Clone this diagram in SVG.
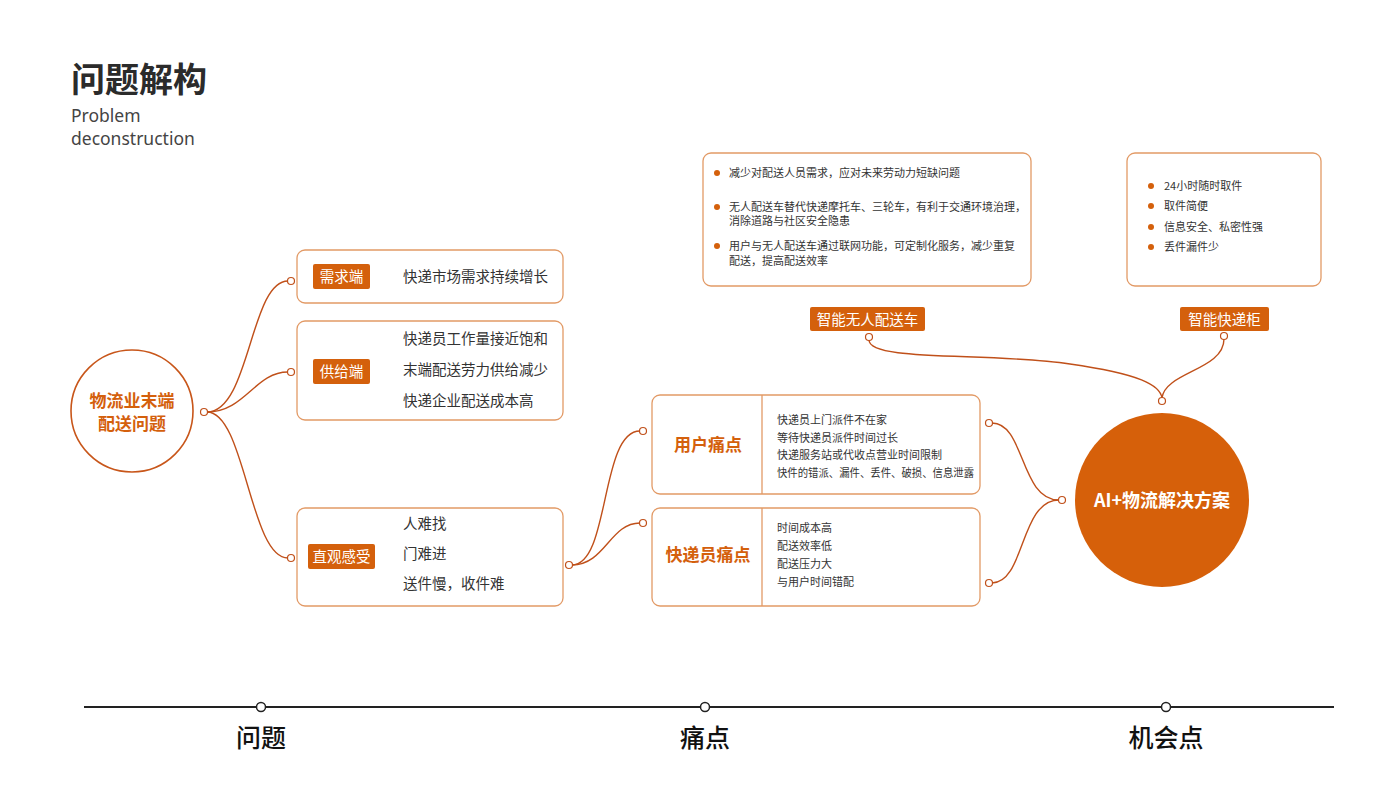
<svg xmlns="http://www.w3.org/2000/svg" width="1400" height="788" viewBox="0 0 1400 788">
<defs>
<style>
.cjk{font-family:"Noto Sans CJK SC","Noto Sans",sans-serif}
.box{fill:#fff;stroke:#e29a66;stroke-width:1.3}
.tag{fill:#d4600c}
.tagt{fill:#fff;font-size:14.5px;text-anchor:middle;font-family:"Noto Sans CJK SC",sans-serif}
.body{fill:#333;font-size:14.5px;font-family:"Noto Sans CJK SC",sans-serif}
.small{fill:#333;font-size:11px;font-family:"Noto Sans CJK SC",sans-serif}
.lbl{fill:#d4600c;font-size:17px;font-weight:700;text-anchor:middle;font-family:"Noto Sans CJK SC",sans-serif}
.link{fill:none;stroke:#c0501a;stroke-width:1.4}
.dot{fill:#fff;stroke:#c0501a;stroke-width:1.2}
.bul{fill:#d4600c}
.tl{fill:#fff;stroke:#222;stroke-width:1.5}
.tlt{fill:#111;font-size:25px;font-weight:500;text-anchor:middle;font-family:"Noto Sans CJK SC",sans-serif}
</style>
</defs>
<rect width="1400" height="788" fill="#fff"/>

<g id="title">
<text x="71" y="92" class="cjk" font-size="34" font-weight="700" fill="#2b2b2b">问题解构</text>
<text x="71" y="121.5" font-family="Noto Sans,sans-serif" font-size="17.5" fill="#444">Problem</text>
<text x="71" y="145" font-family="Noto Sans,sans-serif" font-size="17.5" fill="#444">deconstruction</text>
</g>

<g id="connectors">
<path class="link" d="M207,412 C250,412 250,281 288,281"/>
<path class="link" d="M207,412 C245,412 255,372 288,372"/>
<path class="link" d="M207,412 C245,412 250,558 288,558"/>
<path class="link" d="M572,565 C610,565 600,431 640,431"/>
<path class="link" d="M572,565 C605,565 610,523 640,523"/>
<path class="link" d="M992,423 C1025,423 1020,500 1059,500"/>
<path class="link" d="M992,583 C1025,583 1020,500 1059,500"/>
<path class="link" d="M869,340 C869,362 990,352 1070,364 C1140,374 1160,385 1162,398"/>
<path class="link" d="M1224,339 C1224,370 1165,372 1162,398"/>
<circle class="dot" cx="204" cy="412" r="3.5"/>
<circle class="dot" cx="291" cy="281" r="3.5"/>
<circle class="dot" cx="291" cy="372" r="3.5"/>
<circle class="dot" cx="291" cy="558" r="3.5"/>
<circle class="dot" cx="569" cy="565" r="3.5"/>
<circle class="dot" cx="643" cy="431" r="3.5"/>
<circle class="dot" cx="643" cy="523" r="3.5"/>
<circle class="dot" cx="989" cy="423" r="3.5"/>
<circle class="dot" cx="989" cy="583" r="3.5"/>
<circle class="dot" cx="1062" cy="500" r="3.5"/>
<circle class="dot" cx="1162" cy="401" r="3.5"/>
<circle class="dot" cx="869" cy="337" r="3.5"/>
<circle class="dot" cx="1224" cy="336" r="3.5"/>
</g>

<g id="root">
<circle cx="132" cy="411" r="61" fill="#fff" stroke="#c8561a" stroke-width="1.6"/>
<text x="132" y="407" class="lbl" font-size="16.5">物流业末端</text>
<text x="132" y="430" class="lbl" font-size="16.5">配送问题</text>
</g>

<g id="demand">
<rect class="box" x="297" y="250" width="266" height="53" rx="8"/>
<rect class="tag" x="313" y="264" width="57" height="25" rx="2"/>
<text x="341.5" y="282" class="tagt">需求端</text>
<text x="403" y="282" class="body">快递市场需求持续增长</text>
</g>

<g id="supply">
<rect class="box" x="297" y="321" width="266" height="99" rx="8"/>
<rect class="tag" x="313" y="359" width="57" height="25" rx="2"/>
<text x="341.5" y="377" class="tagt">供给端</text>
<text x="403" y="344" class="body">快递员工作量接近饱和</text>
<text x="403" y="375" class="body">末端配送劳力供给减少</text>
<text x="403" y="406" class="body">快递企业配送成本高</text>
</g>

<g id="intuitive">
<rect class="box" x="297" y="508" width="266" height="98" rx="8"/>
<rect class="tag" x="308" y="544" width="67" height="25" rx="2"/>
<text x="341.5" y="562" class="tagt">直观感受</text>
<text x="403" y="529" class="body">人难找</text>
<text x="403" y="559" class="body">门难进</text>
<text x="403" y="589" class="body">送件慢，收件难</text>
</g>

<g id="user-pain">
<rect class="box" x="652" y="395" width="328" height="99" rx="8"/>
<line x1="762" y1="395" x2="762" y2="494" stroke="#e29a66" stroke-width="1.3"/>
<text x="708" y="451" class="lbl">用户痛点</text>
<text x="777" y="424" class="small">快递员上门派件不在家</text>
<text x="777" y="442" class="small">等待快递员派件时间过长</text>
<text x="777" y="459" class="small">快递服务站或代收点营业时间限制</text>
<text x="777" y="477" class="small" textLength="197" lengthAdjust="spacingAndGlyphs">快件的错派、漏件、丢件、破损、信息泄露</text>
</g>

<g id="courier-pain">
<rect class="box" x="652" y="508" width="328" height="98" rx="8"/>
<line x1="762" y1="508" x2="762" y2="606" stroke="#e29a66" stroke-width="1.3"/>
<text x="708" y="561" class="lbl">快递员痛点</text>
<text x="777" y="532" class="small">时间成本高</text>
<text x="777" y="550" class="small">配送效率低</text>
<text x="777" y="568" class="small">配送压力大</text>
<text x="777" y="586" class="small">与用户时间错配</text>
</g>

<g id="solution">
<circle cx="1162" cy="500" r="87" fill="#d6600a"/>
<text x="1162" y="507" fill="#fff" font-size="18" font-weight="700" text-anchor="middle" class="cjk">AI+物流解决方案</text>
</g>

<g id="vehicle">
<rect class="box" x="703" y="153" width="328" height="133" rx="8"/>
<circle class="bul" cx="717" cy="173" r="3"/>
<text x="729" y="177" class="small">减少对配送人员需求，应对未来劳动力短缺问题</text>
<circle class="bul" cx="717" cy="207" r="3"/>
<text x="729" y="211" class="small">无人配送车替代快递摩托车、三轮车，有利于交通环境治理，</text>
<text x="729" y="225" class="small">消除道路与社区安全隐患</text>
<circle class="bul" cx="717" cy="246" r="3"/>
<text x="729" y="250" class="small">用户与无人配送车通过联网功能，可定制化服务，减少重复</text>
<text x="729" y="265" class="small">配送，提高配送效率</text>
<rect class="tag" x="810" y="307" width="115" height="24" rx="2"/>
<text x="867.5" y="324.5" class="tagt">智能无人配送车</text>
</g>

<g id="locker">
<rect class="box" x="1127" y="153" width="194" height="133" rx="8"/>
<circle class="bul" cx="1151" cy="186" r="3"/>
<text x="1164" y="190" class="small">24小时随时取件</text>
<circle class="bul" cx="1151" cy="206" r="3"/>
<text x="1164" y="210" class="small">取件简便</text>
<circle class="bul" cx="1151" cy="227" r="3"/>
<text x="1164" y="231" class="small">信息安全、私密性强</text>
<circle class="bul" cx="1151" cy="247" r="3"/>
<text x="1164" y="251" class="small">丢件漏件少</text>
<rect class="tag" x="1180" y="307" width="89" height="24" rx="2"/>
<text x="1224.5" y="324.5" class="tagt">智能快递柜</text>
</g>

<g id="timeline">
<line x1="84" y1="707" x2="1334" y2="707" stroke="#222" stroke-width="1.8"/>
<circle class="tl" cx="261" cy="707" r="4.5"/>
<circle class="tl" cx="705" cy="707" r="4.5"/>
<circle class="tl" cx="1166" cy="707" r="4.5"/>
<text x="261" y="747" class="tlt">问题</text>
<text x="705" y="747" class="tlt">痛点</text>
<text x="1166" y="747" class="tlt">机会点</text>
</g>
</svg>
